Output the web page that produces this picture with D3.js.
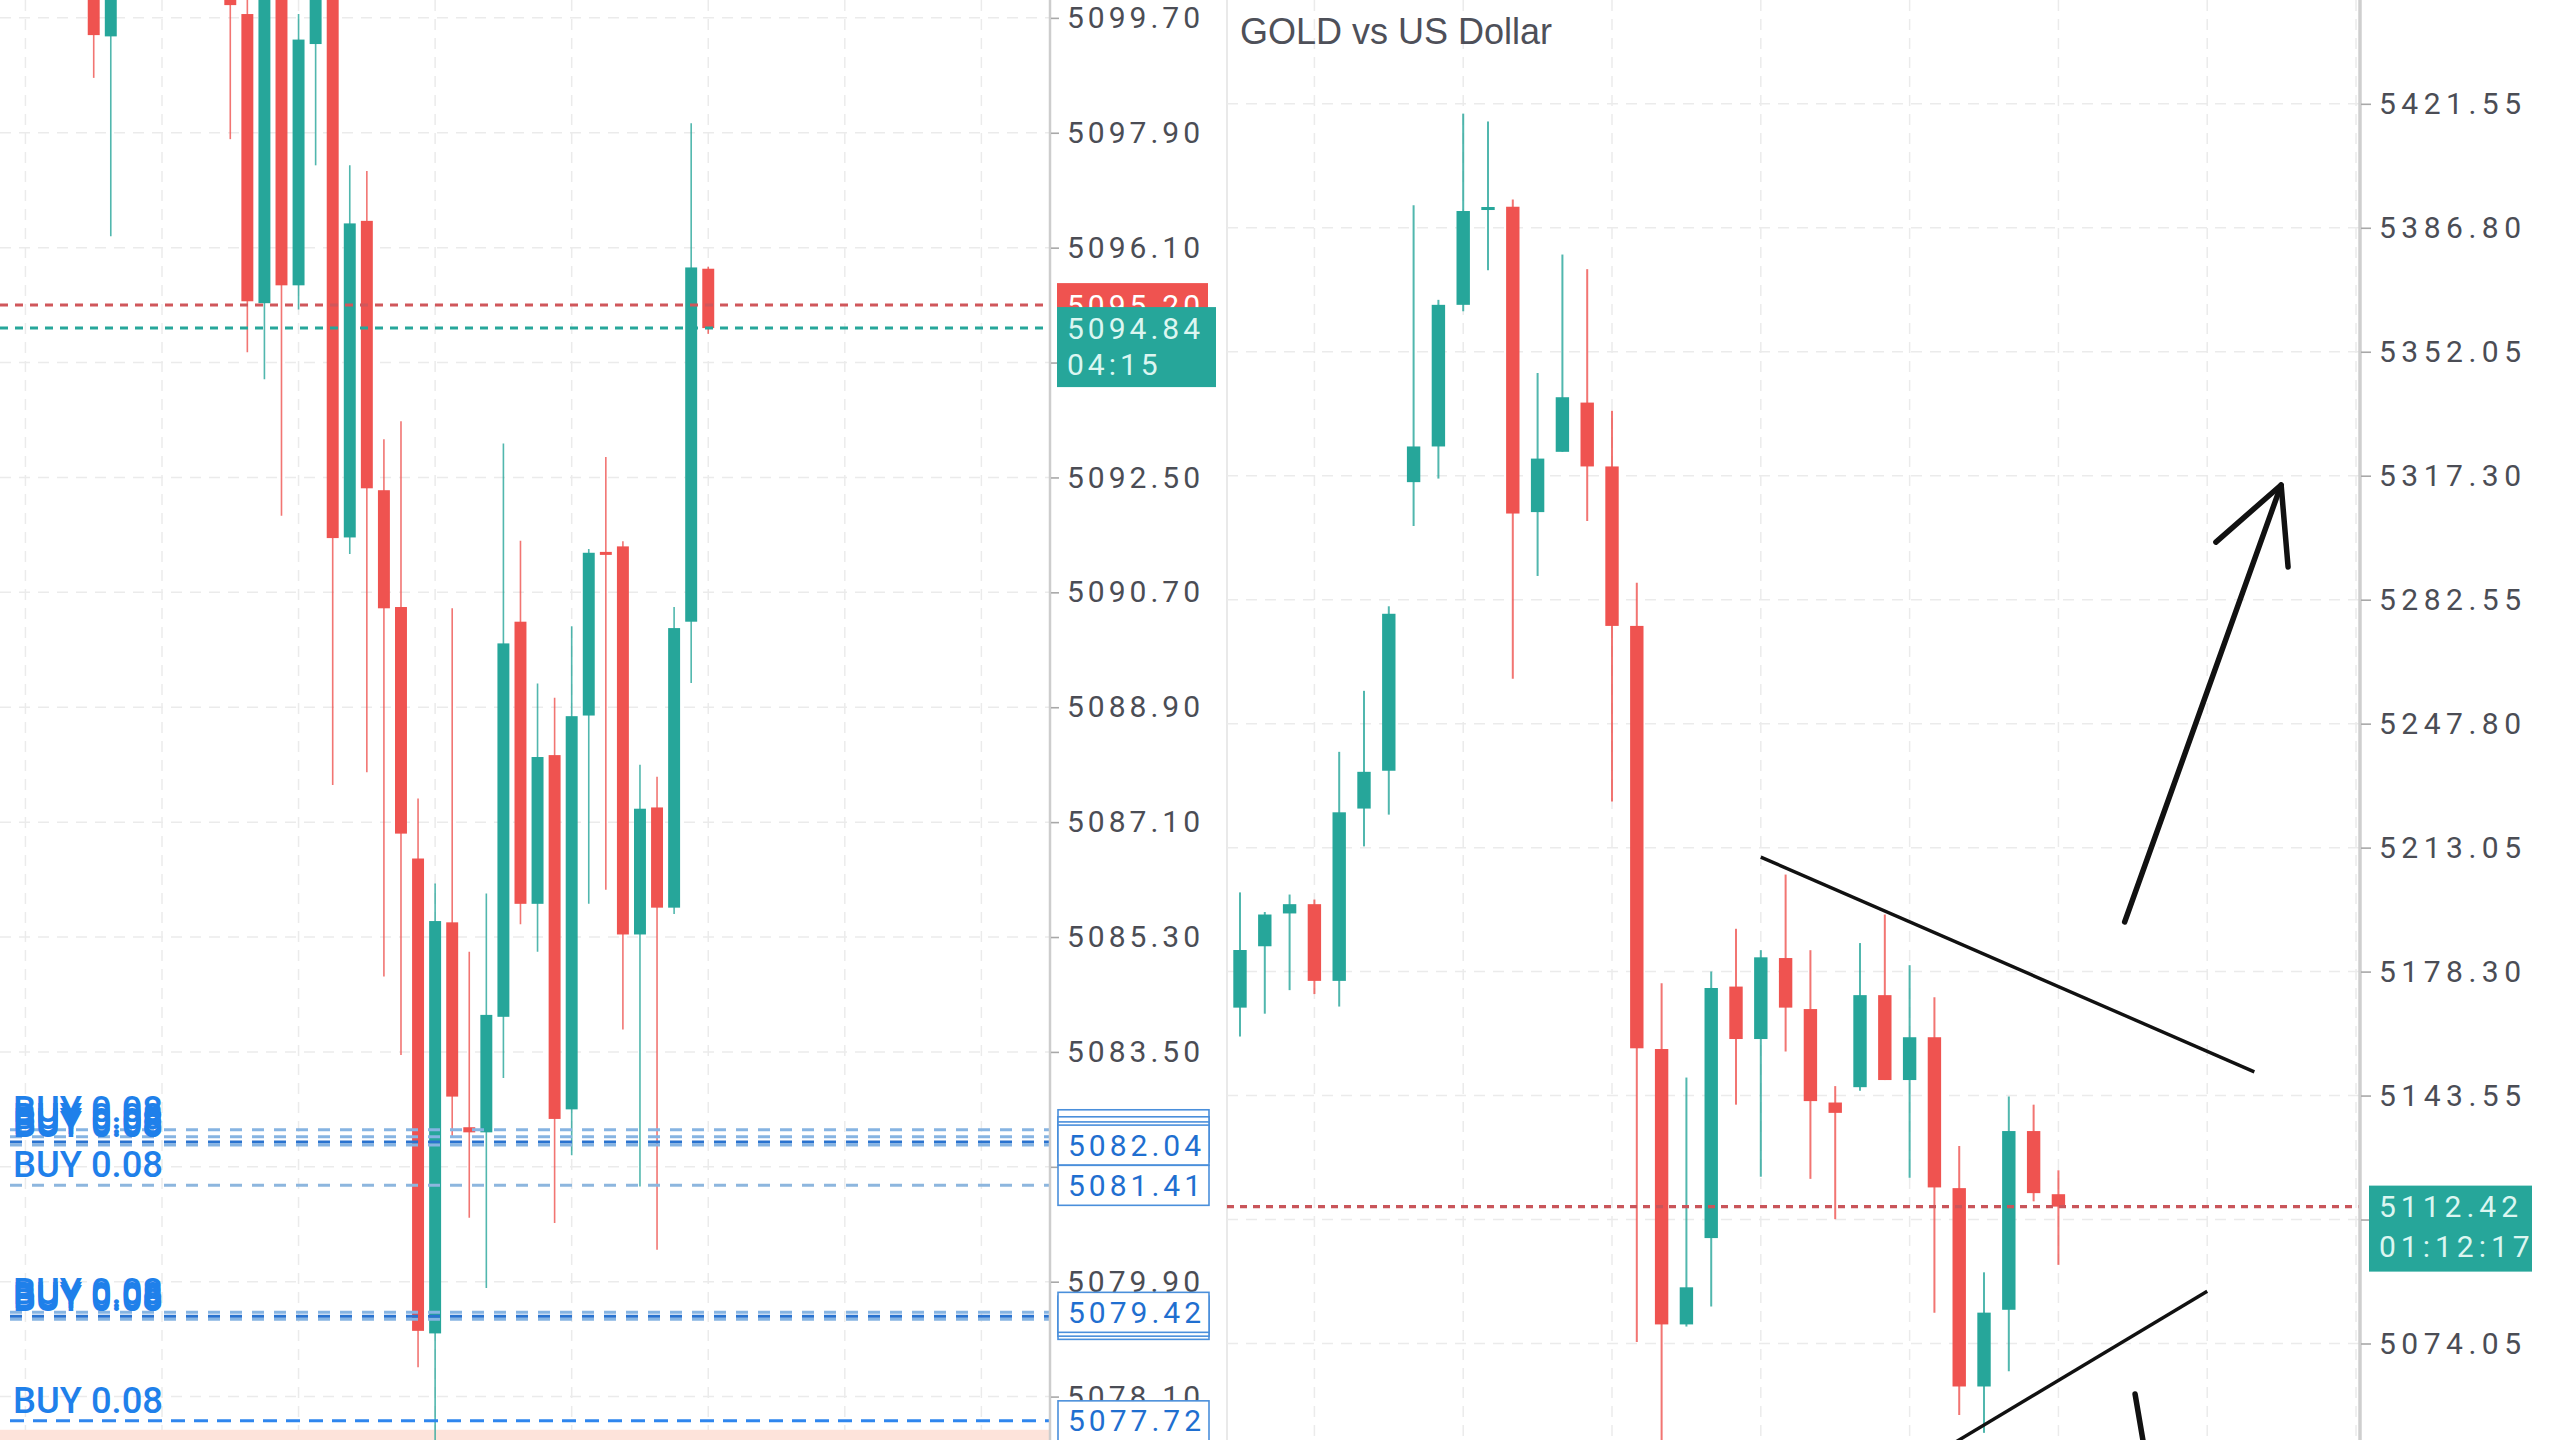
<!DOCTYPE html>
<html><head><meta charset="utf-8">
<script src="https://cdn.jsdelivr.net/npm/d3@7"></script>
<style>html,body{margin:0;padding:0;background:#fff;}svg{display:block;}</style>
</head><body>
<svg id="c" width="2560" height="1440"></svg>
<script>
// ---------------- DATA ----------------
// Left panel (zoomed intraday XAUUSD) – slot index, O/H/L/C
const leftSlots = [0,1,8,9,10,11,12,13,14,15,16,17,18,19,20,21,22,23,24,25,26,27,28,29,30,31,32,33,34,35,36];
const leftOpen  = [5100.60,5099.41,5100.30,5099.76,5095.23,5100.40,5095.51,5099.29,5100.60,5091.56,5096.52,5092.30,5090.47,5086.53,5079.09,5085.53,5082.32,5082.24,5084.05,5090.24,5085.82,5088.15,5082.60,5088.77,5091.32,5091.42,5085.34,5087.33,5085.76,5090.24,5095.77];
const leftHigh  = [5101.00,5101.20,5100.80,5100.50,5100.60,5100.80,5099.76,5101.00,5101.00,5097.39,5097.30,5093.10,5093.38,5087.47,5086.14,5090.45,5085.07,5085.98,5093.03,5091.51,5089.27,5089.05,5090.17,5091.38,5092.82,5091.50,5088.00,5087.81,5090.47,5098.05,5095.80];
const leftLow   = [5098.76,5096.28,5097.80,5094.46,5094.04,5091.90,5095.13,5097.39,5087.68,5091.30,5087.88,5084.68,5083.45,5078.56,5076.90,5082.16,5080.90,5079.80,5083.09,5085.50,5085.07,5080.82,5081.88,5085.82,5086.04,5083.85,5081.39,5080.40,5085.66,5089.28,5094.75];
const leftClose = [5099.43,5100.80,5099.90,5095.26,5100.30,5095.51,5099.36,5100.50,5091.55,5096.48,5092.33,5090.45,5086.92,5079.13,5085.55,5082.80,5082.24,5084.08,5089.90,5085.82,5088.12,5082.45,5088.76,5091.32,5091.30,5085.34,5087.31,5085.76,5090.14,5095.79,5094.84];
const leftTicks = [5099.70,5097.90,5096.10,5094.30,5092.50,5090.70,5088.90,5087.10,5085.30,5083.50,5081.70,5079.90,5078.10];
const leftGridSlots = [-4,4,12,20,28,36,44,52];
const leftAsk = 5095.20, leftBid = 5094.84, leftTimer = "04:15";
const buyPrices = [5082.28,5082.17,5082.09,5082.04,5081.41,5079.31,5079.36,5079.42,5077.72];
const buyLabel = "BUY 0.08";
const slZone = [5076.50,5077.58];

// Right panel (GOLD vs US Dollar)
const rightTitle = "GOLD vs US Dollar";
const rightSlots = [0,1,2,3,4,5,6,7,8,9,10,11,12,13,14,15,16,17,18,19,20,21,22,23,24,25,26,27,28,29,30,31,32,33];
const rightOpen  = [5168.2,5185.4,5194.6,5197.2,5175.7,5224.0,5234.6,5315.5,5325.5,5365.2,5392.0,5392.7,5307.1,5324.0,5337.8,5319.9,5275.2,5156.6,5079.4,5103.6,5174.1,5159.4,5182.1,5167.8,5141.6,5145.9,5171.7,5147.9,5159.9,5117.6,5062.0,5083.5,5133.6,5115.9];
const rightHigh  = [5200.5,5195.0,5199.9,5198.5,5239.9,5257.0,5280.7,5393.1,5366.6,5418.8,5416.6,5394.7,5346.1,5379.3,5375.2,5335.5,5287.3,5175.0,5148.6,5178.3,5190.3,5184.3,5205.5,5184.3,5146.2,5186.3,5194.3,5180.1,5171.1,5129.4,5094.0,5143.3,5141.0,5122.6];
const rightLow   = [5160.1,5166.5,5173.1,5172.0,5168.5,5213.4,5222.3,5303.2,5316.5,5363.4,5374.9,5260.4,5289.2,5324.0,5304.6,5226.0,5074.5,5035.0,5078.8,5084.4,5141.0,5120.8,5155.9,5120.2,5108.9,5144.9,5147.9,5120.5,5082.7,5054.0,5049.0,5066.3,5113.9,5096.1];
const rightClose = [5184.35,5194.3,5197.2,5175.7,5222.95,5234.3,5278.6,5325.5,5365.2,5391.5,5392.4,5306.7,5322.1,5339.3,5319.9,5275.2,5156.8,5079.4,5089.8,5173.7,5159.4,5182.3,5168.2,5142.0,5138.7,5171.7,5147.9,5159.9,5117.8,5062.0,5082.7,5133.6,5116.2,5112.42];
const rightTicks = [5421.55,5386.80,5352.05,5317.30,5282.55,5247.80,5213.05,5178.30,5143.55,5108.80,5074.05];
const rightGridSlots = [3,9,15,21,27,33,39,45];
const rightLast = 5112.42, rightTimer = "01:12:17";
// hand-drawn annotations, in (slot, price) space
const trendUpper = [[21.0,5210.4],[40.9,5150.2]];
const trendLower = [[27.0,5038.7],[39.0,5088.7]];
const arrowUpShaft = [[35.67,5192.2],[41.98,5314.7]];
const arrowUpHead = [[39.35,5298.7],[41.98,5314.7],[42.26,5291.7]];
const arrowDownShaft = [[36.09,5059.9],[36.75,5033.0]];

// ---------------- STYLE ----------------
const UP = "#26a69a", DN = "#ef5350";
const GRID = "#ebebeb";
const LABEL = "#4b4d55";
const BUY_TONES = ["#86b4e2","#86b4e2","#2a73cf","#86b4e2","#8db6de","#86b4e2","#2a73cf","#86b4e2","#2f86ee"];

const svg = d3.select("#c");
svg.append("rect").attr("width",2560).attr("height",1440).attr("fill","#fff");

const xL = d3.scaleLinear().domain([-5.49,56.02]).range([0,1050]);
const yL = d3.scaleLinear().domain([5077.42,5099.98]).range([1440,0]);
const xR = d3.scaleLinear().domain([-0.524,45.16]).range([1227,2360]);
const yR = d3.scaleLinear().domain([5047.0,5450.65]).range([1440,0]);

const defs = svg.append("defs");
defs.append("clipPath").attr("id","clipL").append("rect").attr("x",0).attr("y",0).attr("width",1050).attr("height",1440);
defs.append("clipPath").attr("id","clipR").append("rect").attr("x",1227).attr("y",0).attr("width",1133).attr("height",1440);

function grid(g, xs, ys, ticks, slots) {
  const [x0,x1] = xs.range(), [y1,y0] = ys.range();
  g.selectAll("line.h").data(ticks).join("line").attr("class","h")
    .attr("x1",x0).attr("x2",x1).attr("y1",d=>ys(d)).attr("y2",d=>ys(d))
    .attr("stroke",GRID).attr("stroke-width",1.5).attr("stroke-dasharray","11,8");
  g.selectAll("line.v").data(slots).join("line").attr("class","v")
    .attr("x1",d=>xs(d)).attr("x2",d=>xs(d)).attr("y1",y0).attr("y2",y1)
    .attr("stroke",GRID).attr("stroke-width",1.5).attr("stroke-dasharray","11,8");
}

function candles(g, slots, O, Hh, Lo, C, xs, ys, frac, wickW) {
  const data = slots.map((s,i)=>({s,o:O[i],h:Hh[i],l:Lo[i],c:C[i]}));
  const bw = (xs(1)-xs(0))*frac;
  g.selectAll("line.wk").data(data).join("line").attr("class","wk")
    .attr("x1",d=>xs(d.s)).attr("x2",d=>xs(d.s))
    .attr("y1",d=>ys(d.h)).attr("y2",d=>ys(d.l))
    .attr("stroke",d=>d.c>=d.o?UP:DN).attr("stroke-width",wickW).attr("opacity",0.8);
  g.selectAll("rect.bd").data(data).join("rect").attr("class","bd")
    .attr("x",d=>xs(d.s)-bw/2).attr("width",bw)
    .attr("y",d=>{const a=ys(d.o),b=ys(d.c),h=Math.abs(a-b);return h<3?(a+b)/2-1.5:Math.min(a,b);})
    .attr("height",d=>Math.max(3,Math.abs(ys(d.o)-ys(d.c))))
    .attr("fill",d=>d.c>=d.o?UP:DN);
}

function axis(g, ys, ticks, x, size, pad, spacing) {
  const ax = d3.axisRight(ys).tickValues(ticks).tickSize(size).tickPadding(pad).tickFormat(d3.format(".2f"));
  g.attr("transform",`translate(${x},0)`).call(ax);
  g.select(".domain").remove();
  g.selectAll(".tick line").attr("stroke","#a8a8a8").attr("stroke-width",1.6);
  g.selectAll(".tick text").attr("fill",LABEL).attr("font-family","Roboto, 'Noto Sans', sans-serif")
    .attr("font-size",30).style("letter-spacing",spacing+"px");
}

// ---------- LEFT PANEL ----------
const gL = svg.append("g");
grid(gL, xL, yL, leftTicks, leftGridSlots);
const pL = gL.append("g").attr("clip-path","url(#clipL)");
pL.append("rect").attr("x",0).attr("width",1050)
  .attr("y",yL(slZone[1])).attr("height",yL(slZone[0])-yL(slZone[1])).attr("fill","#fde3da");
candles(pL.append("g"), leftSlots, leftOpen, leftHigh, leftLow, leftClose, xL, yL, 0.70, 1.6);

pL.append("line").attr("x1",0).attr("x2",1050).attr("y1",yL(leftAsk)).attr("y2",yL(leftAsk))
  .attr("stroke","#d0575b").attr("stroke-width",3).attr("stroke-dasharray","8,7");
pL.append("line").attr("x1",0).attr("x2",1050).attr("y1",yL(leftBid)).attr("y2",yL(leftBid))
  .attr("stroke",UP).attr("stroke-width",3).attr("stroke-dasharray","8,7");

// buy lines
const gBuy = pL.append("g");
buyPrices.forEach((p,i)=>{
  const last = i===buyPrices.length-1;
  gBuy.append("line").attr("x1",10).attr("x2",1050).attr("y1",yL(p)).attr("y2",yL(p))
    .attr("stroke",BUY_TONES[i]).attr("stroke-width",3).attr("stroke-dasharray",last?"14,9":"12,10");
});
buyPrices.forEach((p,i)=>{
  gBuy.append("text").attr("x",13).attr("y",yL(p)-8).text(buyLabel)
    .attr("fill","#1f80ea").attr("font-family","Roboto, sans-serif").attr("font-weight",500)
    .attr("font-size",36).attr("textLength",150).attr("lengthAdjust","spacingAndGlyphs");
});

// left axis
gL.append("line").attr("x1",1050).attr("x2",1050).attr("y1",0).attr("y2",1440).attr("stroke","#cdcdcd").attr("stroke-width",2.5);
axis(gL.append("g"), yL, leftTicks, 1051, 8, 8, 4);

// left price boxes
function box(g, x, y, w, h, fill, stroke, lines, color, sp) {
  g.append("rect").attr("x",x).attr("y",y).attr("width",w).attr("height",h).attr("fill",fill)
    .attr("stroke",stroke||"none").attr("stroke-width",stroke?1.6:0);
  lines.forEach((t,k)=>g.append("text").attr("x",x+10).attr("y",t[1]).attr("dy","0.35em").text(t[0])
    .attr("fill",color).attr("font-family","Roboto, sans-serif").attr("font-size",30).style("letter-spacing",sp+"px"));
}
const gBox = svg.append("g");
buyPrices.forEach((p,i)=>{
  box(gBox, 1058, yL(p)-20, 151, 40, "#fff", "#4a8fdb", [[p.toFixed(2), yL(p)]], "#1f6fd0", 4);
});
box(gBox, 1057, yL(leftAsk)-22, 151, 44, DN, null, [[leftAsk.toFixed(2), yL(leftAsk)]], "#fff", 4);
box(gBox, 1057, yL(leftBid)-21, 159, 80, UP, null, [[leftBid.toFixed(2), yL(leftBid)],[leftTimer, yL(leftBid)+36]], "#dcf6f1", 4);

// ---------- RIGHT PANEL ----------
const gR = svg.append("g");
gR.append("line").attr("x1",1227).attr("x2",1227).attr("y1",0).attr("y2",1440).attr("stroke","#e2e2e2").attr("stroke-width",1.5);
grid(gR, xR, yR, rightTicks, rightGridSlots);
const pR = gR.append("g").attr("clip-path","url(#clipR)");
candles(pR.append("g"), rightSlots, rightOpen, rightHigh, rightLow, rightClose, xR, yR, 0.54, 2);
pR.append("line").attr("x1",1227).attr("x2",2360).attr("y1",yR(rightLast)).attr("y2",yR(rightLast))
  .attr("stroke","#c9555a").attr("stroke-width",3.2).attr("stroke-dasharray","7,6");

const lineGen = d3.line().x(d=>xR(d[0])).y(d=>yR(d[1]));
pR.append("path").attr("d",lineGen(trendUpper)).attr("stroke","#111").attr("stroke-width",3.4).attr("fill","none");
pR.append("path").attr("d",lineGen(trendLower)).attr("stroke","#111").attr("stroke-width",3.4).attr("fill","none");
pR.append("path").attr("d",lineGen(arrowUpShaft)).attr("stroke","#111").attr("stroke-width",5.5).attr("fill","none").attr("stroke-linecap","round");
pR.append("path").attr("d",lineGen(arrowUpHead)).attr("stroke","#111").attr("stroke-width",5.5).attr("fill","none").attr("stroke-linecap","round").attr("stroke-linejoin","round");
pR.append("path").attr("d",lineGen(arrowDownShaft)).attr("stroke","#111").attr("stroke-width",5.5).attr("fill","none").attr("stroke-linecap","round");

svg.append("text").attr("x",1240).attr("y",44).text(rightTitle)
  .attr("fill","#4e5059").attr("font-family","'Liberation Sans', Arial, sans-serif").attr("font-size",36);

gR.append("line").attr("x1",2360).attr("x2",2360).attr("y1",0).attr("y2",1440).attr("stroke","#cfcfcf").attr("stroke-width",3.5);
axis(gR.append("g"), yR, rightTicks, 2361, 10, 8, 5.5);
box(svg.append("g"), 2369, yR(rightLast)-21, 163, 86, UP, null,
  [[rightLast.toFixed(2), yR(rightLast)],[rightTimer, yR(rightLast)+40]], "#dcf6f1", 5);
</script>
</body></html>
